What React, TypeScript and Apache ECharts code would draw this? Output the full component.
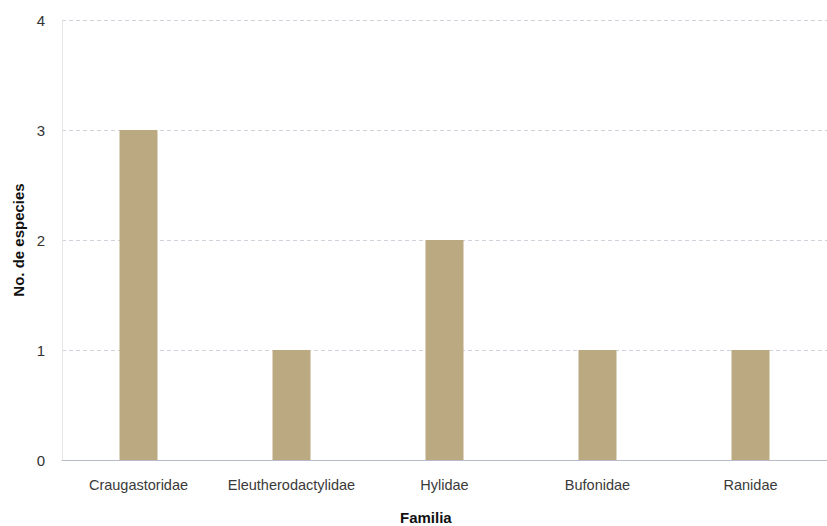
import React, { useEffect, useRef } from "react";
import * as echarts from "echarts";

const categories = ["Craugastoridae", "Eleutherodactylidae", "Hylidae", "Bufonidae", "Ranidae"];
const species = [3, 1, 2, 1, 1];
const yTicks = { min: 0, max: 4, interval: 1 };

export default function App() {
  const ref = useRef<HTMLDivElement>(null);
  useEffect(() => {
    if (!ref.current) return;
    const chart = echarts.init(ref.current, null, { renderer: "svg" });
    chart.setOption({
      animation: false,
      backgroundColor: "#ffffff",
      grid: { left: 62, top: 20, width: 767, height: 440, containLabel: false },
      xAxis: {
        type: "category",
        data: categories,
        axisLine: { show: true, lineStyle: { color: "#b8bcc8", width: 1 } },
        axisTick: { show: false },
        axisLabel: {
          interval: 0,
          color: "#3a3a3a",
          fontFamily: "Liberation Sans, Arial, sans-serif",
          fontSize: 14.5,
          margin: 17,
        },
        splitLine: { show: false },
      },
      yAxis: {
        type: "value",
        min: yTicks.min,
        max: yTicks.max,
        interval: yTicks.interval,
        name: "No. de especies",
        nameLocation: "middle",
        nameGap: 36,
        nameTextStyle: {
          color: "#111",
          fontWeight: "bold",
          fontSize: 15,
          fontFamily: "Liberation Sans, Arial, sans-serif",
        },
        axisLine: { show: true, lineStyle: { color: "#e6e6e6", width: 1 } },
        axisTick: { show: false },
        axisLabel: {
          color: "#333",
          fontSize: 15,
          fontFamily: "Liberation Sans, Arial, sans-serif",
          margin: 17,
        },
        splitLine: { show: true, lineStyle: { color: "#cfd2da", type: [4, 3], width: 1 } },
      },
      graphic: [
        {
          type: "text",
          left: 400,
          top: 510,
          style: {
            text: "Familia",
            fill: "#111",
            fontWeight: "bold",
            fontSize: 15,
            fontFamily: "Liberation Sans, Arial, sans-serif",
          },
        },
      ],
      series: [
        {
          type: "bar",
          data: species,
          barWidth: 38,
          itemStyle: { color: "#bba982" },
        },
      ],
    });
    return () => chart.dispose();
  }, []);
  return <div ref={ref} style={{ width: 827, height: 526, position: "absolute", left: 0, top: 0 }} />;
}
